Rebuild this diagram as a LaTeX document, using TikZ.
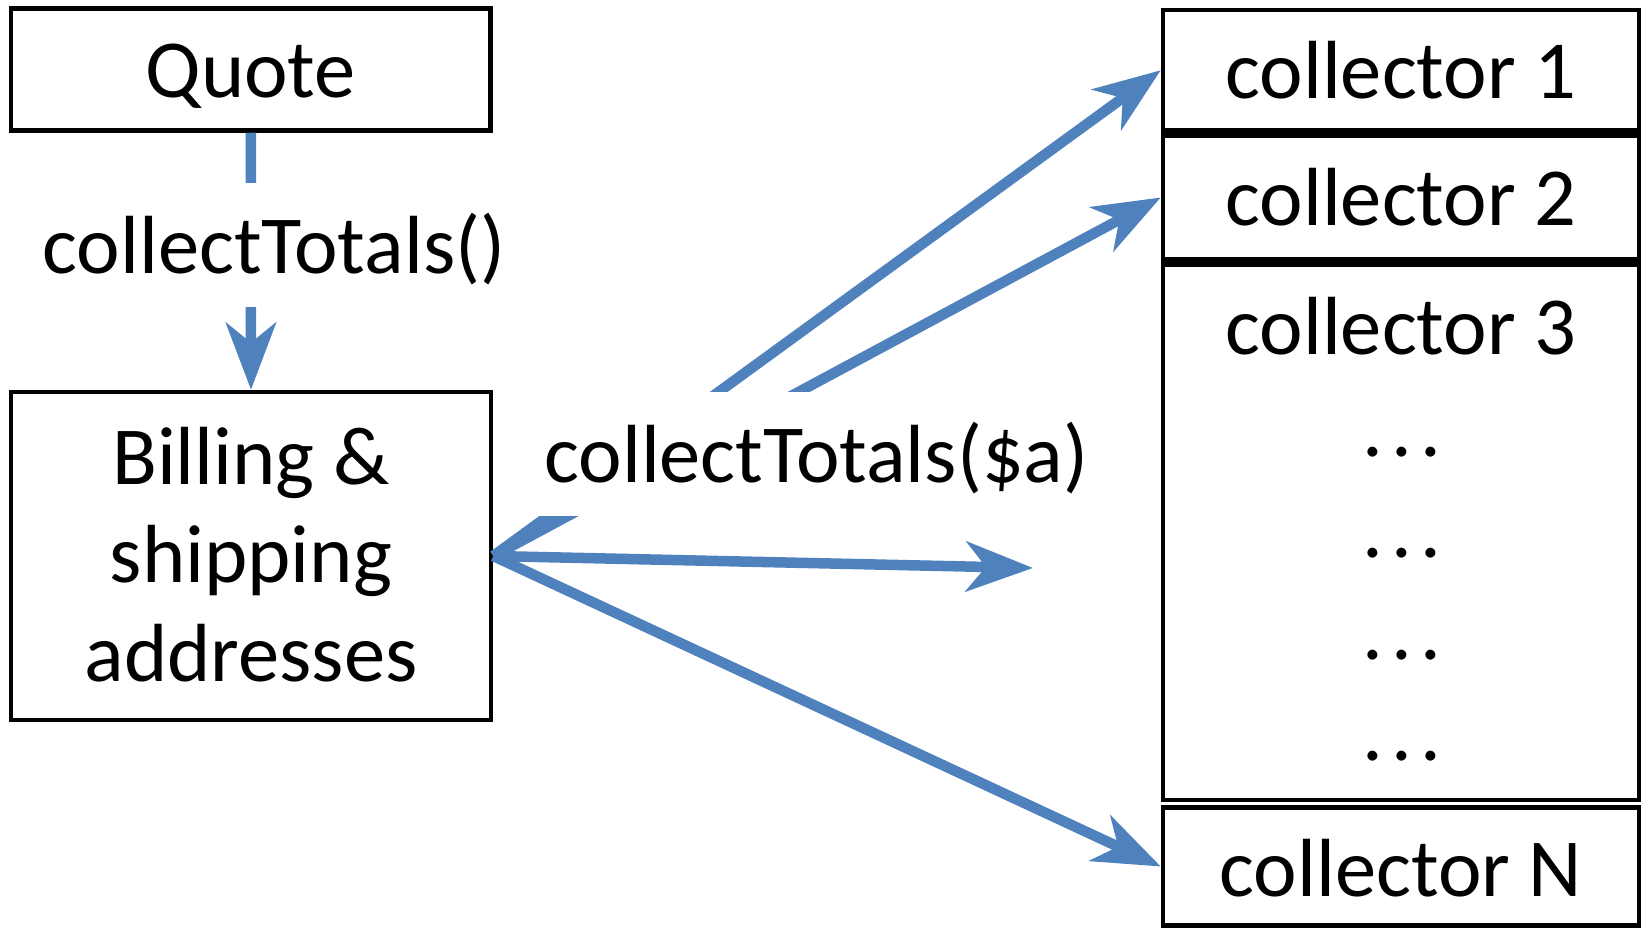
\documentclass[tikz,border=0pt]{standalone}
\usepackage{fontspec}
\setmainfont{Carlito}
\usetikzlibrary{arrows.meta}
\definecolor{cblue}{RGB}{79,129,189}
\newcommand{\mydots}{.\kern4pt.\kern4pt.}
\begin{document}
\begin{tikzpicture}[x=0.5pt,y=-0.5pt,
  every node/.style={font=\fontsize{41.25pt}{50pt}\selectfont},
  box/.style={draw=black, line width=2.25pt, inner sep=0pt, text height=35pt, text depth=7.25pt},
  conn/.style={draw=cblue, line width=5.25pt, -{Stealth[length=33.5pt,width=25pt,inset=10pt]}},
  lbl/.style={fill=white, inner xsep=5pt, inner ysep=0pt, text height=45pt, text depth=17pt, anchor=base},
  txt/.style={anchor=base, inner sep=0pt}]
\useasboundingbox (0,0) rectangle (1643,931);
% left column
\node[box, minimum width=239.75pt, minimum height=61pt] (quote) at (250.75,69.5) {Quote};
\node[box, minimum width=240pt, minimum height=164pt] (billing) at (251,556) {};
\node[txt] (b1) at (251,484) {Billing \&};
\node[txt] (b2) at (251,582) {shipping};
\node[txt] (b3) at (251,681) {addresses};
% right column
\node[box, minimum width=238pt, minimum height=60.25pt] (c1) at (1401,70.25) {collector 1};
\node[box, minimum width=238pt, minimum height=61.75pt] (c2) at (1401,197.5) {collector 2};
\node[draw=black, line width=2.25pt, inner sep=0pt, minimum width=238pt, minimum height=267.75pt] (c3) at (1401,532.25) {};
\node[txt] (c3t) at (1401,354) {collector 3};
\node[txt] (d1) at (1402,456) {\mydots};
\node[txt] (d2) at (1402,557) {\mydots};
\node[txt] (d3) at (1402,659) {\mydots};
\node[txt] (d4) at (1402,760) {\mydots};
\node[box, minimum width=238pt, minimum height=59pt, text depth=5pt] (cn) at (1401,866.5) {collector N};
\coordinate (mid) at (1033,568);
% connectors
\draw[conn] (quote.south) -- (billing.north);
\draw[conn] (billing.east) -- (c1.west);
\draw[conn] (billing.east) -- (c2.west);
\draw[conn] (billing.east) -- (mid);
\draw[conn] (billing.east) -- (cn.west);
% labels
\node[lbl] (l1) at (274,273) {collectTotals()};
\node[lbl] (l2) at (816.5,482) {collectTotals(\$a)};
\end{tikzpicture}
\end{document}
